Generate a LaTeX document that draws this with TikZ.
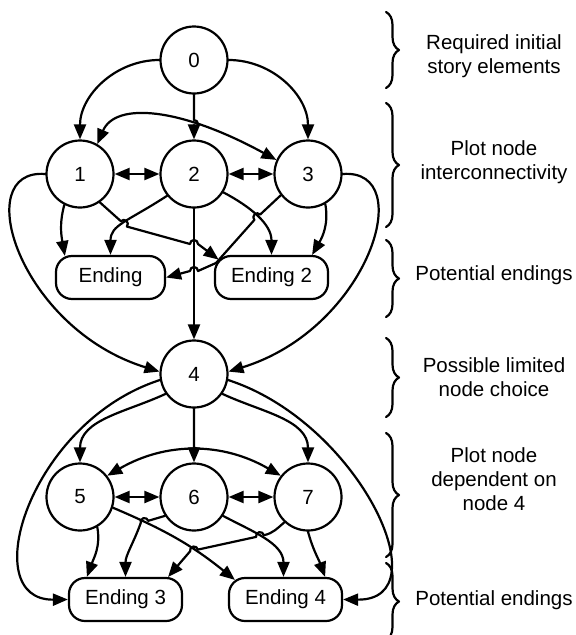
\documentclass[tikz,border=0pt]{standalone}
\usepackage{fontspec}
\setmainfont{Liberation Sans}
\usetikzlibrary{arrows.meta,decorations.pathreplacing}

\begin{document}
\begin{tikzpicture}[x=1pt,y=1pt,line cap=round,line join=round,
  font=\fontsize{20.5}{24}\selectfont,
  plotnode/.style={circle,draw,line width=2.2pt,minimum size=67pt,inner sep=0pt},
  ending/.style={rectangle,draw,line width=2.2pt,rounded corners=16pt,minimum width=113pt,minimum height=43pt,inner sep=0pt},
  arr/.style={line width=2.2pt,-{Triangle[length=15pt,width=12pt]}},
  darr/.style={line width=2.2pt,{Triangle[length=15pt,width=12pt]}-{Triangle[length=15pt,width=12pt]}},
  grp/.style={line width=2.2pt,decorate,decoration={brace,amplitude=13pt}},
  lbl/.style={align=center}]
\useasboundingbox (0,0) rectangle (576,-635);
\node[plotnode] (n0) at (194,-60) {0};
\node[plotnode] (n1) at (80,-174) {1};
\node[plotnode] (n2) at (194,-174) {2};
\node[plotnode] (n3) at (308,-174) {3};
\node[ending,minimum width=109pt] (e1) at (110.5,-277.5) {Ending};
\node[ending] (e2) at (271.5,-277.5) {Ending 2};
\node[plotnode] (n4) at (194,-374) {4};
\node[plotnode] (n5) at (80,-497) {5};
\node[plotnode] (n6) at (194,-497) {6};
\node[plotnode] (n7) at (308,-497) {7};
\node[ending] (e3) at (125.5,-599.5) {Ending 3};
\node[ending] (e4) at (285.5,-599.5) {Ending 4};
\draw[arr] (n0.west) to[out=180,in=90] (n1.north);
\draw[arr] (n0.east) to[out=0,in=90] (n3.north);
\draw[arr] (n0.south) -- (194,-120) arc[start angle=90,delta angle=-180,radius=4] -- (n2.north);
\draw[darr] (n1.60) .. controls +(18,42) and +(-97,53) .. (n3.156);
\draw[darr] (n1.east) -- (n2.west);
\draw[darr] (n2.east) -- (n3.west);
\draw[arr] (n1.243) to[out=255,in=100] ([xshift=10pt,yshift=-1pt]e1.north west);
\draw[arr] (n2.219) .. controls +(-40,-26) and +(0,30) .. (e1.north);
\draw[arr] (n1.-55) -- (120.9,-221.2) arc[start angle=138.1,delta angle=-180,radius=4] -- (190,-244) arc[start angle=180,delta angle=-180,radius=4] -- ([xshift=4.7pt,yshift=-4.7pt]e2.north west);
\draw[arr] (n2.-32) to[out=-28,in=90] (e2.north);
\draw[arr] (n3.218) -- (260.2,-214.5) arc[start angle=43.1,delta angle=180,radius=4] -- (216,-263) -- (198,-271) arc[start angle=0,delta angle=180,radius=4] -- (e1.east);
\draw[arr] (n3.-60) to[out=-80,in=60] ([xshift=-17pt]e2.north east);
\draw[arr] (n2.south) -- (n4.north);
\draw[arr] (n1.west) .. controls +(-76.5,6) and +(-140,43) .. (n4.176);
\draw[arr] (n3.east) .. controls +(76.5,6) and +(140,43) .. (n4.4);
\draw[arr] (n4.215) to[out=205,in=90] (n5.north);
\draw[arr] (n4.-35) to[out=-25,in=90] (n7.north);
\draw[arr] (n4.south) -- (194,-447.5) arc[start angle=90,delta angle=-180,radius=3] -- (n6.north);
\draw[darr] (n5.38) to[out=30,in=150] (n7.142);
\draw[darr] (n5.east) -- (n6.west);
\draw[darr] (n6.east) -- (n7.west);
\draw[arr] (n4.190) .. controls +(-130,-42) and +(-93,-1) .. (e3.west);
\draw[arr] (n4.-10) .. controls +(130,-42) and +(100,-1) .. (e4.east);
\draw[arr] (n5.-60) to[out=-80,in=70] ([xshift=19pt]e3.north west);
\draw[arr] (n5.-18) to[out=-23,in=141] ([xshift=7pt,yshift=-3pt]e4.north west);
\draw[arr] (n6.213) -- (148.3,-520.8) arc[start angle=17.6,delta angle=180,radius=4] to[out=250,in=90] (e3.north);
\draw[arr] (n6.-33) to[out=-28,in=90] ([xshift=-2pt]e4.north);
\draw[arr] (n7.227) to[out=220,in=12] (263.9,-535.2) arc[start angle=12.3,delta angle=180,radius=4] -- (197.9,-549.6) arc[start angle=12.3,delta angle=180,radius=4] -- ([xshift=-15pt]e3.north east);
\draw[arr] (n7.-90) to[out=-75,in=110] ([xshift=-18pt]e4.north east);
\draw[grp] (386,-12) -- (386,-88);
\draw[grp] (386,-103) -- (386,-227);
\draw[grp] (386,-240) -- (386,-317);
\draw[grp] (386,-338) -- (386,-417);
\draw[grp] (386,-433) -- (386,-557);
\draw[grp] (386,-563) -- (386,-640);
\node[lbl] (t1) at (494,-56.5) {Required initial\\story elements};
\node[lbl] (t2) at (494,-162) {Plot node\\interconnectivity};
\node[lbl] (t3) at (494,-275) {Potential endings};
\node[lbl] (t4) at (494,-377) {Possible limited\\node choice};
\node[lbl] (t5) at (494,-479) {Plot node\\dependent on\\node 4};
\node[lbl] (t6) at (494,-600) {Potential endings};
\end{tikzpicture}
\end{document}
